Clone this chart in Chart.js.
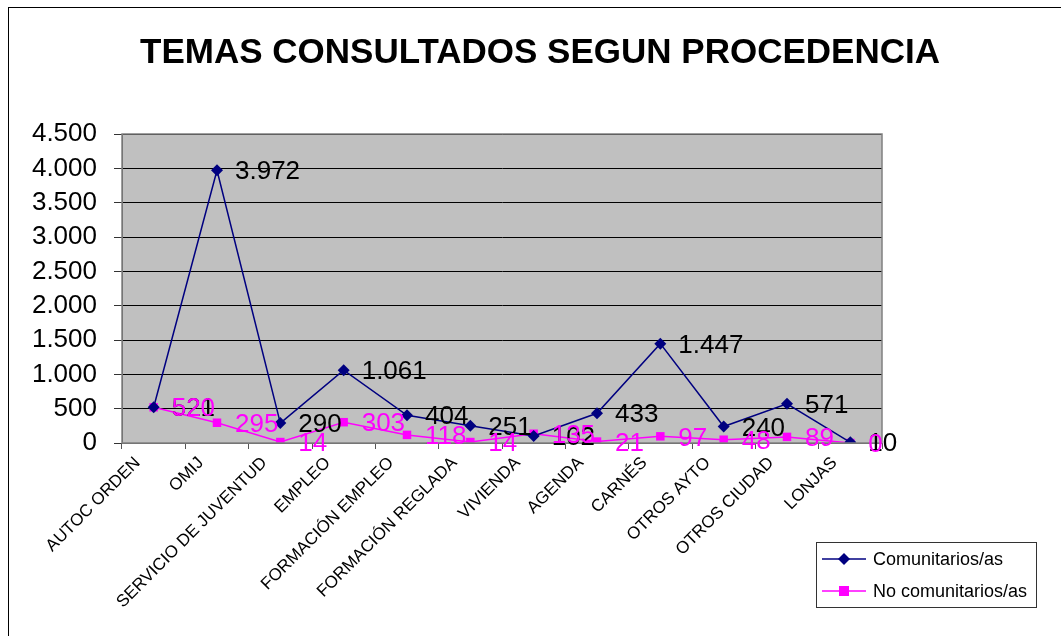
<!DOCTYPE html>
<html>
<head>
<meta charset="utf-8">
<script src="https://cdn.jsdelivr.net/npm/chart.js@4/dist/chart.umd.min.js"></script>
<style>
  html, body { margin: 0; padding: 0; background: #fff; }
  #wrap { width: 1061px; height: 636px; }
</style>
</head>
<body>
<div id="wrap"><canvas id="chart"></canvas></div>
<script>
const categories = ['AUTOC ORDEN', 'OMIJ', 'SERVICIO DE JUVENTUD', 'EMPLEO', 'FORMACIÓN EMPLEO',
  'FORMACIÓN REGLADA', 'VIVIENDA', 'AGENDA', 'CARNÉS', 'OTROS AYTO', 'OTROS CIUDAD', 'LONJAS']
const comunitarios = [521, 3972, 290, 1061, 404, 251, 102, 433, 1447, 240, 571, 10]
const noComunitarios = [520, 295, 14, 303, 118, 14, 135, 21, 97, 48, 89, 0]
const yTicks = [0, 500, 1000, 1500, 2000, 2500, 3000, 3500, 4000, 4500]
const titleText = 'TEMAS CONSULTADOS SEGUN PROCEDENCIA'

const FONT = '"Liberation Sans", Arial, sans-serif'

// 4.500 style thousands separator
const fmt = v => String(v).replace(/\B(?=(\d{3})+(?!\d))/g, '.')

// white page, outer frame, title and grey plot area
const backdrop = {
  id: 'backdrop',
  beforeDraw(chart) {
    const { ctx, chartArea: a } = chart
    ctx.save()
    ctx.fillStyle = '#fff'
    ctx.fillRect(0, 0, chart.width, chart.height)
    ctx.strokeStyle = '#000'
    ctx.lineWidth = 1
    ctx.strokeRect(8.5, 7.5, chart.width + 20, chart.height + 20)
    ctx.fillStyle = '#000'
    ctx.font = 'bold 35px ' + FONT
    ctx.textAlign = 'center'
    ctx.textBaseline = 'alphabetic'
    ctx.fillText(titleText, 540, 63)
    ctx.fillStyle = '#c0c0c0'
    ctx.fillRect(a.left, a.top, a.right - a.left, a.bottom - a.top)
    ctx.restore()
  },
  afterDatasetsDraw(chart) {
    const { ctx, chartArea: a } = chart
    ctx.save()
    ctx.strokeStyle = '#808080'
    ctx.lineWidth = 1.5
    ctx.strokeRect(a.left, a.top, a.right - a.left, a.bottom - a.top)
    ctx.restore()
  }
}

// value labels to the right of each point
const valueLabels = {
  id: 'valueLabels',
  afterDraw(chart) {
    const { ctx } = chart
    ctx.save()
    ctx.font = '26px ' + FONT
    ctx.textAlign = 'left'
    ctx.textBaseline = 'middle'
    chart.data.datasets.forEach((ds, i) => {
      const meta = chart.getDatasetMeta(i)
      ctx.fillStyle = ds.labelColor
      meta.data.forEach((pt, j) => {
        ctx.fillText(fmt(ds.data[j]), pt.x + 18, pt.y + 2)
      })
    })
    ctx.restore()
  }
}

// boxed legend, bottom right
const boxLegend = {
  id: 'boxLegend',
  afterDraw(chart) {
    const { ctx } = chart
    const x = 816, y = 542, w = 220, h = 65
    ctx.save()
    ctx.strokeStyle = '#333'
    ctx.lineWidth = 1
    ctx.strokeRect(x + 0.5, y + 0.5, w, h)
    ctx.font = '18px ' + FONT
    ctx.textBaseline = 'middle'
    chart.data.datasets.forEach((ds, i) => {
      const ly = y + 17 + i * 32
      ctx.strokeStyle = ds.borderColor
      ctx.lineWidth = 1.5
      ctx.beginPath()
      ctx.moveTo(x + 6, ly)
      ctx.lineTo(x + 50, ly)
      ctx.stroke()
      ctx.fillStyle = ds.borderColor
      ctx.beginPath()
      if (ds.pointStyle === 'rectRot') {
        ctx.moveTo(x + 28, ly - 6)
        ctx.lineTo(x + 34, ly)
        ctx.lineTo(x + 28, ly + 6)
        ctx.lineTo(x + 22, ly)
        ctx.closePath()
      } else {
        ctx.rect(x + 23, ly - 5, 10, 10)
      }
      ctx.fill()
      ctx.fillStyle = '#000'
      ctx.fillText(ds.label, x + 57, ly + 1)
    })
    ctx.restore()
  }
}

new Chart(document.getElementById('chart'), {
  type: 'line',
  data: {
    labels: categories,
    datasets: [{
      label: 'Comunitarios/as',
      data: comunitarios,
      borderColor: '#000080',
      backgroundColor: '#000080',
      labelColor: '#000',
      borderWidth: 1.5,
      pointStyle: 'rectRot',
      pointRadius: 6,
      pointBorderWidth: 0,
      tension: 0
    }, {
      label: 'No comunitarios/as',
      data: noComunitarios,
      borderColor: '#ff00ff',
      backgroundColor: '#ff00ff',
      labelColor: '#ff00ff',
      borderWidth: 1.5,
      pointStyle: 'rect',
      pointRadius: 6,
      pointBorderWidth: 0,
      tension: 0
    }]
  },
  options: {
    responsive: true,
    maintainAspectRatio: false,
    animation: false,
    layout: { padding: { left: 8, right: 179, top: 134, bottom: 0 } },
    plugins: {
      legend: { display: false },
      tooltip: { enabled: false },
      title: { display: false }
    },
    scales: {
      x: {
        offset: true,
        grid: { display: true, drawOnChartArea: false, drawTicks: true, tickLength: 6, color: '#555', offset: true },
        border: { color: '#555', width: 1 },
        ticks: {
          color: '#000',
          font: { family: FONT, size: 17 },
          maxRotation: 45, minRotation: 45,
          autoSkip: false,
          labelOffset: -16,
          padding: 4
        },
        afterFit(scale) { scale.height = 193 }
      },
      y: {
        min: 0, max: 4500,
        afterBuildTicks(scale) { scale.ticks = yTicks.map(v => ({ value: v })) },
        grid: { color: '#000', lineWidth: 1, drawTicks: true, tickLength: 8, tickColor: '#333' },
        border: { color: '#555', width: 1 },
        ticks: {
          color: '#000',
          font: { family: FONT, size: 26 },
          padding: 17,
          callback: v => fmt(v)
        },
        afterFit(scale) { scale.width = 114 }
      }
    }
  },
  plugins: [backdrop, valueLabels, boxLegend]
})
</script>
</body>
</html>
